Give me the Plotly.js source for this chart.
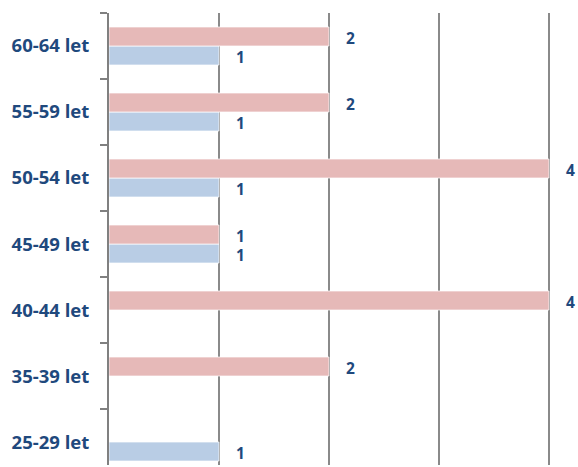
<!DOCTYPE html>
<html>
<head>
<meta charset="utf-8">
<script src="https://cdn.plot.ly/plotly-3.0.1.min.js"></script>
<style>html,body{margin:0;padding:0;background:#fff;}#chart{width:578px;height:467px;}</style>
</head>
<body>
<div id="chart"></div>
<script>
var categories = ["25-29 let", "35-39 let", "40-44 let", "45-49 let", "50-54 let", "55-59 let", "60-64 let"];
var pinkValues = [null, 2, 4, 1, 4, 2, 2];
var blueValues = [1, null, null, 1, 1, 1, 1];

var labelColor = "#1F497D";
var traces = [
  {type: "bar", orientation: "h", y: categories, x: blueValues, name: "blue",
   marker: {color: "#B9CDE5", line: {color: "rgba(255,255,255,0.7)", width: 1}}, hoverinfo: "none"},
  {type: "bar", orientation: "h", y: categories, x: pinkValues, name: "pink",
   marker: {color: "#E6B9B8", line: {color: "rgba(255,255,255,0.7)", width: 1}}, hoverinfo: "none"}
];

var annotations = [];
function addLabels(vals, yshift) {
  vals.forEach(function (v, i) {
    if (v === null) return;
    annotations.push({x: v, y: categories[i], xref: "x", yref: "y", text: String(v),
      showarrow: false, xanchor: "left", yanchor: "middle", xshift: 15, yshift: yshift,
      font: {family: "Open Sans", size: 15.5, color: labelColor, weight: "bold"}});
  });
}
addLabels(pinkValues, 8);
addLabels(blueValues, -11);

var layout = {
  width: 578, height: 467,
  margin: {l: 109, r: 27, t: 13, b: 2, pad: 0},
  paper_bgcolor: "#fff", plot_bgcolor: "#fff",
  showlegend: false,
  barmode: "group", bargap: 0.424, bargroupgap: 0,
  xaxis: {range: [0, 4.0182], dtick: 1, tick0: 0, showticklabels: false, showgrid: true,
    gridcolor: "#8a8a8a", gridwidth: 1.5, zeroline: false, showline: false, ticks: "", fixedrange: true},
  yaxis: {type: "category", categoryorder: "array", categoryarray: categories,
    range: [-0.348, 6.5], showgrid: false, zeroline: false,
    showline: true, linecolor: "#808080", linewidth: 2,
    ticks: "outside", tickson: "boundaries", ticklen: 7, tickwidth: 1.5, tickcolor: "#808080",
    ticklabelstandoff: 14,
    tickfont: {family: "Open Sans", size: 18.5, color: labelColor, weight: "bold"}, fixedrange: true},
  annotations: annotations
};

Plotly.newPlot("chart", traces, layout, {displayModeBar: false, staticPlot: true});
</script>
</body>
</html>
